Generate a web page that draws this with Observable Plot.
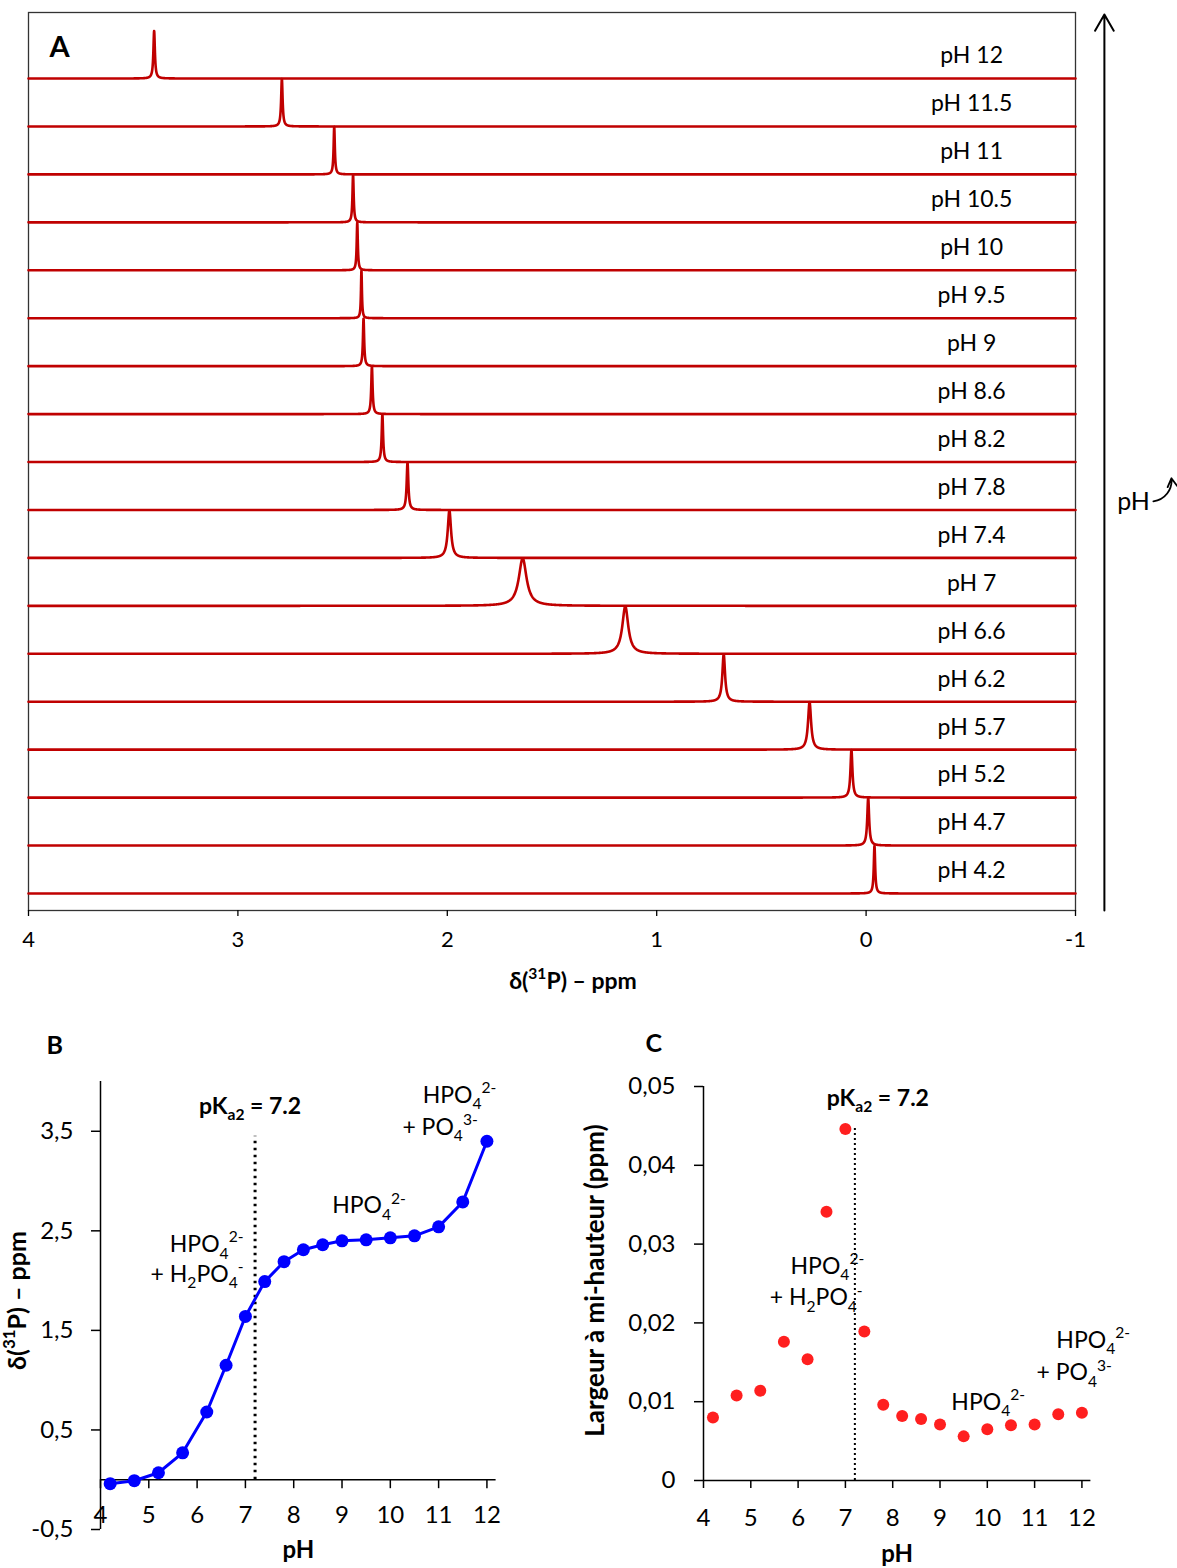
<!DOCTYPE html>
<html><head><meta charset="utf-8">
<script src="https://cdn.jsdelivr.net/npm/d3@7"></script>
<script src="https://cdn.jsdelivr.net/npm/@observablehq/plot@0.6"></script>
<style>
body{margin:0;background:#fff;}
#fig{position:relative;width:1177px;height:1568px;font-family:Lato,"Open Sans",sans-serif;}
#fig > svg{position:absolute;overflow:visible;}
</style></head><body><div id="fig"></div>
<script>
// ---- data ----
const pHValues = [4.2, 4.7, 5.2, 5.7, 6.2, 6.6, 7, 7.4, 7.8, 8.2, 8.6, 9, 9.5, 10, 10.5, 11, 11.5, 12];
const pHLabels = ["pH 4.2","pH 4.7","pH 5.2","pH 5.7","pH 6.2","pH 6.6","pH 7","pH 7.4","pH 7.8","pH 8.2","pH 8.6","pH 9","pH 9.5","pH 10","pH 10.5","pH 11","pH 11.5","pH 12"];
const shiftPpm = [-0.04, -0.01, 0.07, 0.27, 0.68, 1.15, 1.64, 1.99, 2.19, 2.31, 2.36, 2.40, 2.41, 2.43, 2.45, 2.54, 2.79, 3.40];
const linewidthPpm = [0.0080, 0.0108, 0.0114, 0.0176, 0.0154, 0.0341, 0.0446, 0.0189, 0.0096, 0.0082, 0.0078, 0.0071, 0.0056, 0.0065, 0.0070, 0.0071, 0.0084, 0.0086];
const shiftTicks = [4, 3, 2, 1, 0, -1];
const phTicks = [4, 5, 6, 7, 8, 9, 10, 11, 12];
const shiftAxisTicks = [-0.5, 0.5, 1.5, 2.5, 3.5];
const widthTicks = [0, 0.01, 0.02, 0.03, 0.04, 0.05];
const pKa2 = 7.2;

// table for B and C
const table = pHValues.map((p, i) => ({pH: p, shift: shiftPpm[i], width: linewidthPpm[i]}));

// Lorentzian line shape for each spectrum, from its read shift and half-height width
const spectrumPoints = [];
pHValues.forEach((p, k) => {
  const x0 = shiftPpm[k], hw = linewidthPpm[k] / 2;
  const xs = d3.range(-1, 4.0001, 0.004).concat(d3.range(-15, 15.001, 0.05).map(u => x0 + u * hw));
  xs.sort((a, b) => a - b);
  for (const x of xs) if (x >= -1 && x <= 4) spectrumPoints.push({k, x, y: k + 0.99 * hw * hw / ((x - x0) ** 2 + hw * hw)});
});

const font = "Lato, 'Open Sans', sans-serif";
const baseStyle = {fontFamily: font, fontSize: "21px", color: "#000", background: "transparent", overflow: "visible"};
const comma = (d, n) => d === 0 ? "0" : d.toFixed(n).replace(".", ",");

// ---- Panel A ----
const yA = [-0.355, 18.377];
const A = Plot.plot({
  width: 1177, height: 1000,
  marginLeft: 28, marginRight: 102, marginTop: 12, marginBottom: 90,
  style: baseStyle,
  x: {domain: [4, -1]},
  y: {domain: yA, axis: null},
  marks: [
    Plot.frame({stroke: "#333", strokeWidth: 1.3}),
    Plot.line(spectrumPoints, {x: "x", y: "y", z: "k", stroke: "#c00000", strokeWidth: 2.6}),
    Plot.text(pHLabels, {x: -0.504, y: (d, i) => i + 0.47, text: d => d, fontSize: 23}),
    Plot.axisX({ticks: shiftTicks, tickSize: 6, tickPadding: 15, tickFormat: d => String(d), fontSize: 22, label: null, strokeWidth: 1.3}),
    Plot.text(["δ(^{31}P) – ppm"], {frameAnchor: "bottom", lineAnchor: "middle", dx: 21, dy: 71, fontWeight: "bold", fontSize: 23}),
    Plot.text(["A"], {frameAnchor: "top-left", dx: 21, dy: 24, fontWeight: "bold", fontSize: 29}),
    Plot.arrow([0], {x1: -1.138, x2: -1.138, y1: yA[0], y2: 18.335, stroke: "#000", strokeWidth: 2, headLength: 14}),
    Plot.text(["pH"], {x: -1.277, y: 8.156, fontSize: 25}),
    Plot.arrow([0], {x1: -1.372, y1: 8.18, x2: -1.458, y2: 8.66, bend: -45, stroke: "#000", strokeWidth: 1.8, headLength: 8})
  ]
});

// ---- Panel B ----
const xMax = 12.19;
const blue = "#0000ff";
const B = Plot.plot({
  width: 560, height: 568,
  marginLeft: 100, marginRight: 64.4, marginTop: 81, marginBottom: 39,
  style: baseStyle,
  x: {domain: [4, xMax], axis: null},
  y: {domain: [-0.5, 4]},
  marks: [
    Plot.ruleX([4], {y1: -0.5, y2: 4, strokeWidth: 1.5}),
    Plot.axisY({ticks: shiftAxisTicks, tickSize: 9, tickPadding: 18, tickFormat: d => comma(d, 1), fontSize: 24, label: null, strokeWidth: 1.5}),
    Plot.ruleY([0], {x1: 4, x2: xMax, strokeWidth: 1.5}),
    Plot.ruleX(phTicks, {y1: 0, y2: -0.09, strokeWidth: 1.5}),
    Plot.text(phTicks, {x: d => d, y: 0, dy: 36, text: d => String(d), fontSize: 24}),
    Plot.ruleX([pKa2], {y1: 0, y2: 3.45, strokeWidth: 3, strokeDasharray: "2.5,4.5"}),
    Plot.line(table, {x: "pH", y: "shift", stroke: blue, strokeWidth: 3}),
    Plot.dot(table, {x: "pH", y: "shift", r: 6.5, fill: blue}),
    Plot.text(["pK_{a2} = 7.2"], {x: pKa2, y: 3.75, dx: -5, fontWeight: "bold", fontSize: 23}),
    Plot.text(["HPO_{4}^{2-}"], {x: 6.96, y: 2.36, textAnchor: "end", fontSize: 23}),
    Plot.text(["+ H_{2}PO_{4}^{-}"], {x: 6.96, y: 2.06, textAnchor: "end", fontSize: 23}),
    Plot.text(["HPO_{4}^{2-}"], {x: 9.56, y: 2.75, fontSize: 23}),
    Plot.text(["HPO_{4}^{2-}"], {x: 10.67, y: 3.86, textAnchor: "start", fontSize: 23}),
    Plot.text(["+ PO_{4}^{3-}"], {x: 10.25, y: 3.54, textAnchor: "start", fontSize: 23}),
    Plot.text(["pH"], {frameAnchor: "bottom", lineAnchor: "middle", dy: 21, fontWeight: "bold", fontSize: 24}),
    Plot.text(["δ(^{31}P) – ppm"], {frameAnchor: "left", textAnchor: "middle", lineAnchor: "middle", dx: -83, dy: -5, rotate: -90, fontWeight: "bold", fontSize: 25}),
    Plot.text(["B"], {frameAnchor: "top-left", dx: -54, dy: -45, fontWeight: "bold", fontSize: 25})
  ]
});

// ---- Panel C ----
const red = "#ff1f1f";
const C = Plot.plot({
  width: 607, height: 568,
  marginLeft: 133, marginRight: 86.6, marginTop: 86, marginBottom: 88,
  style: baseStyle,
  x: {domain: [4, xMax]},
  y: {domain: [0, 0.05]},
  marks: [
    Plot.ruleX([4], {y1: 0, y2: 0.05, strokeWidth: 1.5}),
    Plot.axisY({ticks: widthTicks, tickSize: 9, tickPadding: 19, tickFormat: d => comma(d, 2), fontSize: 24, label: null, strokeWidth: 1.5}),
    Plot.ruleY([0], {x1: 4, x2: xMax, strokeWidth: 1.5}),
    Plot.axisX({ticks: phTicks, tickSize: 8, tickPadding: 20, fontSize: 24, label: null, strokeWidth: 1.5}),
    Plot.ruleX([pKa2], {y1: 0, y2: 0.045, strokeWidth: 2, strokeDasharray: "2,3"}),
    Plot.dot(table, {x: "pH", y: "width", r: 6, fill: red}),
    Plot.text(["pK_{a2} = 7.2"], {x: pKa2, y: 0.0485, dx: 23, fontWeight: "bold", fontSize: 23}),
    Plot.text(["HPO_{4}^{2-}"], {x: 5.84, y: 0.0272, textAnchor: "start", fontSize: 23}),
    Plot.text(["+ H_{2}PO_{4}^{-}"], {x: 5.40, y: 0.02316, textAnchor: "start", fontSize: 23}),
    Plot.text(["HPO_{4}^{2-}"], {x: 9.24, y: 0.0099, textAnchor: "start", fontSize: 23}),
    Plot.text(["HPO_{4}^{2-}"], {x: 11.46, y: 0.0178, textAnchor: "start", fontSize: 23}),
    Plot.text(["+ PO_{4}^{3-}"], {x: 11.04, y: 0.01364, textAnchor: "start", fontSize: 23}),
    Plot.text(["pH"], {frameAnchor: "bottom", lineAnchor: "middle", dy: 74, fontWeight: "bold", fontSize: 24}),
    Plot.text(["Largeur à mi-hauteur (ppm)"], {frameAnchor: "left", textAnchor: "middle", lineAnchor: "middle", dx: -108, dy: -3, rotate: -90, fontWeight: "bold", fontSize: 26}),
    Plot.text(["C"], {frameAnchor: "top-left", dx: -58, dy: -52, fontWeight: "bold", fontSize: 25})
  ]
});

const fig = document.getElementById("fig");
[[A, 0, 0], [B, 0, 1000], [C, 570, 1000]].forEach(([svg, left, top]) => {
  svg.style.left = left + "px";
  svg.style.top = top + "px";
  svg.style.maxWidth = "none";
  fig.appendChild(svg);
});

// rich text: _{sub} and ^{sup}
const NS = "http://www.w3.org/2000/svg";
fig.querySelectorAll("text").forEach(t => {
  const s = t.textContent;
  if (!/[_^]\{/.test(s)) return;
  const fs = parseFloat(getComputedStyle(t).fontSize) || 22;
  t.textContent = "";
  const re = /([_^])\{([^}]*)\}|([^_^]+)/g;
  let m, offset = 0;
  while ((m = re.exec(s))) {
    const ts = document.createElementNS(NS, "tspan");
    let target;
    if (m[3] !== undefined) {
      ts.textContent = m[3];
      target = 0;
    } else {
      ts.textContent = m[2];
      ts.setAttribute("font-size", (fs * 0.68).toFixed(1));
      target = m[1] === "_" ? fs * 0.28 : -fs * 0.42;
    }
    if (target !== offset) ts.setAttribute("dy", (target - offset).toFixed(1));
    offset = target;
    t.appendChild(ts);
  }
});
</script></body></html>
